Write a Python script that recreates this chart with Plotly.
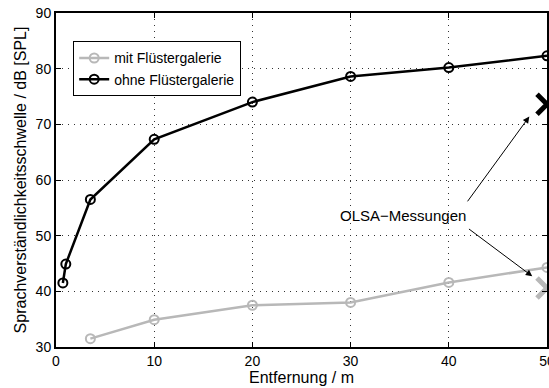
import plotly.graph_objects as go

x_ohne = [0.7, 1.0, 3.5, 10, 20, 30, 40, 50]
y_ohne = [41.5, 44.9, 56.5, 67.3, 74.0, 78.6, 80.2, 82.3]
x_mit = [3.5, 10, 20, 30, 40, 50]
y_mit = [31.5, 34.9, 37.5, 38.0, 41.6, 44.3]
olsa_x = [50, 50]
olsa_y = [73.6, 40.6]
x_ticks = [0, 10, 20, 30, 40, 50]
y_ticks = [30, 40, 50, 60, 70, 80, 90]

FONT = "Liberation Sans, Arial, sans-serif"
GRAY = "#b8b8b8"
fig = go.Figure()
fig.add_trace(go.Scatter(x=x_mit, y=y_mit, mode="lines+markers", name="mit Flüstergalerie",
                         line=dict(color=GRAY, width=2.5),
                         marker=dict(symbol="circle-open", size=9, color=GRAY, line=dict(width=2))))
fig.add_trace(go.Scatter(x=x_ohne, y=y_ohne, mode="lines+markers", name="ohne Flüstergalerie",
                         line=dict(color="black", width=2.5),
                         marker=dict(symbol="circle-open", size=9, color="black", line=dict(width=2))))
fig.add_trace(go.Scatter(x=[olsa_x[0]], y=[olsa_y[0]], mode="markers", showlegend=False,
                         marker=dict(symbol="x-thin-open", size=20, color="black", line=dict(width=5, color="black"))))
fig.add_trace(go.Scatter(x=[olsa_x[1]], y=[olsa_y[1]], mode="markers", showlegend=False,
                         marker=dict(symbol="x-thin-open", size=20, color=GRAY, line=dict(width=5, color=GRAY))))

fig.add_annotation(x=48.2, y=71.4, ax=41.8, ay=55.9, axref="x", ayref="y", xref="x", yref="y",
                   text="", showarrow=True, arrowhead=2, arrowsize=1.3, arrowwidth=1, arrowcolor="black")
fig.add_annotation(x=48.5, y=42.7, ax=41.9, ay=51.4, axref="x", ayref="y", xref="x", yref="y",
                   text="", showarrow=True, arrowhead=2, arrowsize=1.3, arrowwidth=1, arrowcolor="black")
fig.add_annotation(x=35.3, y=53.7, xref="x", yref="y", text="OLSA−Messungen", showarrow=False,
                   font=dict(size=15, color="black", family=FONT))

axis_common = dict(showline=True, linecolor="black", linewidth=2, mirror="ticks",
                   ticks="inside", ticklen=5, tickcolor="black",
                   showgrid=True, gridcolor="#333333", griddash="1px,5px", gridwidth=1,
                   zeroline=False, automargin=False, ticklabeloverflow="allow",
                   tickfont=dict(size=14, color="black", family=FONT))
fig.update_xaxes(range=[0, 50], tickvals=x_ticks, title=dict(text="Entfernung / m", standoff=3,
                 font=dict(size=16, color="black", family=FONT)), **axis_common)
fig.update_yaxes(range=[30, 90], tickvals=y_ticks, title=dict(text="Sprachverständlichkeitsschwelle / dB [SPL]", standoff=5,
                 font=dict(size=16, color="black", family=FONT)), **axis_common)

fig.update_layout(width=549, height=388, margin=dict(l=56, r=2, t=13, b=41),
                  plot_bgcolor="white", paper_bgcolor="white",
                  legend=dict(x=0.035, y=0.915, xanchor="left", yanchor="top", bordercolor="black", borderwidth=1,
                              bgcolor="white", tracegroupgap=0, itemwidth=30,
                              font=dict(size=14, color="black", family=FONT)))
fig.write_html("out.html", config={"displayModeBar": False},
               post_script="document.body.style.margin='0';document.body.style.overflow='hidden';")
